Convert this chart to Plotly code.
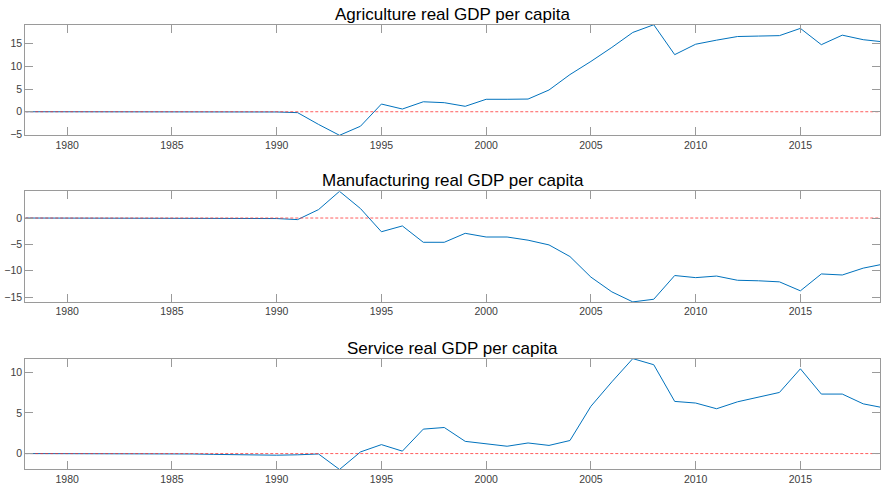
import plotly.graph_objects as go

years = list(range(1978, 2020))

agriculture = [0, 0, 0, 0, 0, 0, 0, 0, 0, 0, 0, 0, -0.05,
               -0.2, -2.8, -5.2, -3.2, 1.7, 0.6, 2.2, 2.0, 1.2, 2.75,
               2.75, 2.8, 4.8, 8.2, 11.1, 14.2, 17.5, 19.2, 12.6, 14.9,
               15.8, 16.6, 16.7, 16.8, 18.4, 14.8, 16.9, 15.9, 15.4]

manufacturing = [0, 0, 0, 0, 0, 0, 0, 0, 0, 0, 0, -0.05, -0.1,
                 -0.3, 1.6, 5.06, 1.8, -2.6, -1.5, -4.6, -4.6, -2.9, -3.6,
                 -3.6, -4.2, -5.1, -7.3, -11.2, -14.0, -15.9, -15.4, -10.9, -11.3,
                 -11.0, -11.8, -11.9, -12.1, -13.8, -10.6, -10.8, -9.5, -8.7]

service = [0, 0, 0, 0, 0, 0, 0, -0.02, -0.05, -0.1, -0.15, -0.2, -0.2,
           -0.15, -0.05, -1.95, 0.2, 1.1, 0.3, 3.0, 3.2, 1.5, 1.2,
           0.9, 1.3, 1.0, 1.6, 5.8, 8.8, 11.65, 10.9, 6.4, 6.2,
           5.5, 6.35, 6.9, 7.5, 10.4, 7.3, 7.3, 6.1, 5.6]

titles = ["Agriculture real GDP per capita",
          "Manufacturing real GDP per capita",
          "Service real GDP per capita"]
series = [agriculture, manufacturing, service]
y_ranges = [[-5.2, 19.2], [-15.9, 5.06], [-1.95, 11.65]]
y_ticks = [[-5, 0, 5, 10, 15], [-15, -10, -5, 0], [0, 5, 10]]
x_ticks = [1980, 1985, 1990, 1995, 2000, 2005, 2010, 2015]

W, H = 881, 491
frames = [(25.0, 136.7), (193.3, 305.0), (362.3, 474.3)]

fig = go.Figure()
font_family = "Liberation Sans, Arial, sans-serif"
axis_color = "#9a9a9a"
tick_font = dict(family=font_family, size=10.5, color="#404040")

for i, (vals, title) in enumerate(zip(series, titles)):
    n = i + 1
    xa = "x" if n == 1 else f"x{n}"
    ya = "y" if n == 1 else f"y{n}"
    fig.add_trace(go.Scatter(x=years, y=vals, mode="lines",
                             line=dict(color="#0072BD", width=1),
                             xaxis=xa, yaxis=ya, showlegend=False))
    fig.add_trace(go.Scatter(x=years, y=[0] * len(years), mode="lines",
                             line=dict(color="rgba(255,40,40,0.75)", width=1, dash="3px,2px"),
                             xaxis=xa, yaxis=ya, showlegend=False))
    top, bot = frames[i]
    dom = [1 - bot / H, 1 - top / H]
    xkey = "xaxis" if n == 1 else f"xaxis{n}"
    ykey = "yaxis" if n == 1 else f"yaxis{n}"
    fig.update_layout(**{
        xkey: dict(domain=[25.3 / W, 1.0], range=[1978, 2018.8], anchor=ya,
                   tickvals=x_ticks, ticks="inside", ticklen=8, tickcolor=axis_color,
                   showline=True, linecolor=axis_color, linewidth=1, mirror="ticks",
                   showgrid=False, zeroline=False, tickfont=tick_font),
        ykey: dict(domain=dom, range=y_ranges[i], anchor=xa,
                   tickvals=y_ticks[i], ticks="inside", ticklen=8, tickcolor=axis_color,
                   showline=True, linecolor=axis_color, linewidth=1, mirror="ticks",
                   showgrid=False, zeroline=False, tickfont=tick_font),
    })
    fig.add_annotation(text=title, xref="paper", yref="paper",
                       x=(25.3 / W + 1.0) / 2, y=dom[1], xanchor="center",
                       yanchor="bottom", yshift=-1, showarrow=False,
                       font=dict(family=font_family, size=17, color="#000000"))

fig.update_layout(width=W, height=H, margin=dict(l=0, r=0, t=0, b=0),
                  plot_bgcolor="white", paper_bgcolor="white")

fig.write_html("out.html")
